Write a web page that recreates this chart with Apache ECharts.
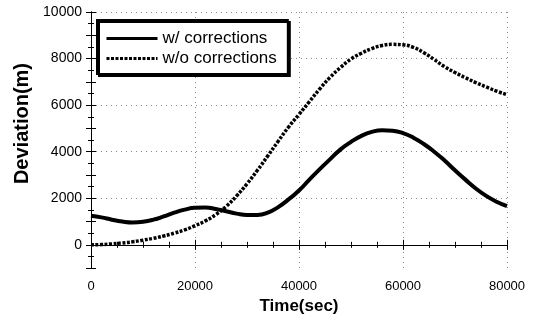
<!DOCTYPE html>
<html>
<head>
<meta charset="utf-8">
<script src="https://cdn.jsdelivr.net/npm/echarts@6/dist/echarts.min.js"></script>
<style>
  html, body { margin: 0; padding: 0; background: #fff; }
  #chart { width: 533px; height: 320px; }
</style>
</head>
<body>
<div id="chart"></div>
<script>
// --- data ---
var timeSec = [0, 2000, 4000, 6000, 8000, 10000, 12000, 14000, 16000, 18000, 20000,
               22000, 24000, 26000, 28000, 30000, 32000, 34000, 36000, 38000, 40000,
               42000, 44000, 46000, 48000, 50000, 52000, 54000, 56000, 58000, 60000,
               62000, 64000, 66000, 68000, 70000, 72000, 74000, 76000, 78000, 80000];
var withCorr = [1250, 1180, 1080, 1000, 960, 990, 1080, 1220, 1380, 1510, 1590,
                1600, 1540, 1440, 1340, 1280, 1280, 1380, 1620, 1950, 2330,
                2800, 3250, 3680, 4100, 4420, 4680, 4850, 4920, 4900, 4800,
                4600, 4330, 4000, 3620, 3200, 2800, 2420, 2100, 1850, 1660];
var withoutCorr = [0, 10, 40, 80, 130, 200, 280, 380, 500, 640, 820,
                   1030, 1300, 1650, 2100, 2620, 3200, 3820, 4450, 5060, 5600,
                   6150, 6700, 7200, 7620, 7980, 8230, 8430, 8560, 8610, 8590,
                   8480, 8250, 7960, 7650, 7400, 7180, 6970, 6780, 6600, 6450];
var seriesNames = ['w/ corrections', 'w/o corrections'];

function pairs(xs, ys) {
    return xs.map(function (x, i) { return [x, ys[i]]; });
}

var FONT = 'Liberation Sans, Arial, sans-serif';
var chart = echarts.init(document.getElementById('chart'));

var tickStyle = { show: true, inside: true, length: 5, lineStyle: { color: '#000' } };
var minorStyle = { show: true, length: 3, lineStyle: { color: '#000' } };

chart.setOption({
    animation: false,
    grid: { left: 91, right: 26, top: 12, bottom: 47 },
    legend: {
        orient: 'vertical',
        left: 97, top: 20,
        itemWidth: 51, itemHeight: 14, itemGap: 3,
        padding: [10, 11, 7, 8],
        backgroundColor: '#fff',
        borderColor: '#000', borderWidth: 2,
        shadowColor: '#000', shadowBlur: 0, shadowOffsetX: 2, shadowOffsetY: 2,
        itemStyle: { opacity: 0 },
        lineStyle: { width: 3 },
        textStyle: { fontFamily: FONT, fontSize: 17, color: '#000' },
        data: seriesNames
    },
    xAxis: [{
        type: 'value', min: 0, max: 80000, interval: 20000,
        name: 'Time(sec)', nameLocation: 'middle', nameGap: 27,
        nameTextStyle: { fontFamily: FONT, fontSize: 17, fontWeight: 'bold', color: '#000' },
        axisLine: { show: true, lineStyle: { color: '#000' } },
        axisTick: tickStyle,
        minorTick: Object.assign({ splitNumber: 4 }, minorStyle),
        axisLabel: {
            fontFamily: FONT, fontSize: 13, color: '#000', margin: 12,
            formatter: function (v) { return String(v); }
        },
        splitLine: { show: true, lineStyle: { color: '#888', type: [1, 4] } }
    }, {
        type: 'value', min: 0, max: 80000, interval: 20000, position: 'top',
        axisLine: { show: true, lineStyle: { color: '#000' } },
        axisTick: tickStyle,
        minorTick: Object.assign({ splitNumber: 4 }, minorStyle),
        axisLabel: { show: false },
        splitLine: { show: false }
    }],
    yAxis: [{
        type: 'value', min: -1000, max: 10000, interval: 1000,
        name: 'Deviation(m)', nameLocation: 'middle', nameGap: 59,
        nameTextStyle: {
            fontFamily: FONT, fontSize: 20, fontWeight: 'bold', color: '#000',
            padding: [0, 0, 0, 33]
        },
        axisLine: { show: true, lineStyle: { color: '#000' } },
        axisTick: tickStyle,
        minorTick: Object.assign({ splitNumber: 2 }, minorStyle),
        axisLabel: {
            fontFamily: FONT, fontSize: 14, color: '#000', margin: 9,
            formatter: function (v) { return v % 2000 === 0 ? String(v) : ''; }
        },
        splitLine: { show: true, lineStyle: { color: ['rgba(0,0,0,0)', '#888'], type: [1, 4] } }
    }, {
        type: 'value', min: -1000, max: 10000, interval: 1000, position: 'right',
        axisLine: { show: true, lineStyle: { color: '#000' } },
        axisTick: tickStyle,
        minorTick: Object.assign({ splitNumber: 2 }, minorStyle),
        axisLabel: { show: false },
        splitLine: { show: false }
    }],
    series: [{
        name: seriesNames[0],
        type: 'line', smooth: true, symbol: 'none',
        data: pairs(timeSec, withCorr),
        lineStyle: { color: '#000', width: 4 },
        itemStyle: { color: '#000' }
    }, {
        name: seriesNames[1],
        type: 'line', smooth: true, symbol: 'none',
        data: pairs(timeSec, withoutCorr),
        lineStyle: { color: '#000', width: 3.5, type: [3, 1.5] },
        itemStyle: { color: '#000' }
    }]
});
</script>
</body>
</html>
